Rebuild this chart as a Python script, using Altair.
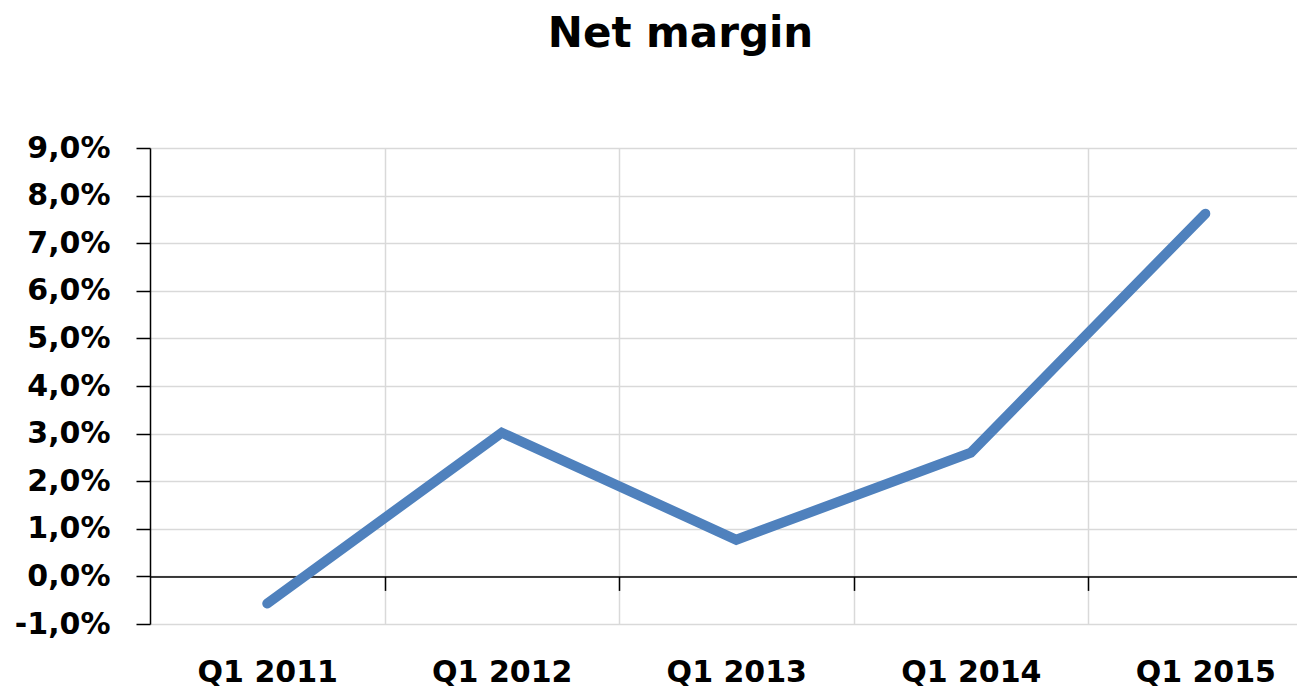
import json
import altair as alt
import pandas as pd

categories = ["Q1 2011", "Q1 2012", "Q1 2013", "Q1 2014", "Q1 2015"]
net_margin_pct = [-0.57, 3.02, 0.77, 2.6, 7.62]
y_ticks = [-1, 0, 1, 2, 3, 4, 5, 6, 7, 8, 9]

df = pd.DataFrame({
    "idx": list(range(len(categories))),
    "category": categories,
    "value": net_margin_pct,
})

centers = list(range(len(categories)))
boundaries = [i + 0.5 for i in range(len(categories) - 1)]

FONT = "DejaVu Sans"
W, H = 1147, 476
x_domain = [-0.5, 4.391]
y_domain = [-1, 9]

label_expr = json.dumps(categories) + "[datum.value]"
y_label_expr = "replace(replace(format(datum.value, '.1f'), '.', ','), '\u2212', '-') + '%'"

y_enc = alt.Y(
    "value:Q",
    scale=alt.Scale(domain=y_domain, nice=False, zero=False),
    axis=alt.Axis(
        values=y_ticks, labelExpr=y_label_expr, title=None,
        grid=True, gridColor="#d9d9d9", gridWidth=1.5,
        domain=True, domainColor="#000000", domainWidth=1.5,
        ticks=True, tickSize=14, tickColor="#000000", tickWidth=1.5,
        labelFont=FONT, labelFontSize=30, labelFontWeight="bold", labelColor="#000000",
        labelPadding=26,
    ),
)

def xenc(axis):
    return alt.X("idx:Q", scale=alt.Scale(domain=x_domain, nice=False, zero=False), axis=axis)

# vertical category-boundary gridlines
grid_layer = alt.Chart(df).mark_line(opacity=0).encode(
    x=xenc(alt.Axis(orient="bottom", values=boundaries, grid=True, gridColor="#d9d9d9",
                    gridWidth=1.5, domain=False, ticks=False, labels=False, title=None)),
    y=y_enc,
)

# zero axis line with ticks at category boundaries (moved up from the bottom to y=0)
zero_offset = -H * (0 - y_domain[0]) / (y_domain[1] - y_domain[0])
zero_layer = alt.Chart(df).mark_line(opacity=0).encode(
    x=xenc(alt.Axis(orient="bottom", values=boundaries, grid=False,
                    offset=zero_offset,
                    domain=True, domainColor="#000000", domainWidth=1.5,
                    ticks=True, tickSize=14, tickColor="#000000", tickWidth=1.5,
                    labels=False, title=None)),
    y=y_enc,
)

# the data line with category labels at the bottom
line_layer = alt.Chart(df).mark_line(
    color="#4F81BD", strokeWidth=10, strokeCap="round"
).encode(
    x=xenc(alt.Axis(orient="bottom", values=centers, labelExpr=label_expr, grid=False,
                    domain=False, ticks=False, title=None,
                    labelFont=FONT, labelFontSize=30, labelFontWeight="bold",
                    labelColor="#000000", labelPadding=33)),
    y=y_enc,
)

chart = alt.layer(grid_layer, zero_layer, line_layer).resolve_axis(
    x="independent"
).properties(
    width=W, height=H,
    autosize=alt.AutoSizeParams(type="none"),
    padding={"left": 142, "top": 140, "right": 0, "bottom": 64},
    title=alt.TitleParams(
        "Net margin", font=FONT, fontSize=42, fontWeight="bold", color="#000000",
        anchor="middle", frame="group", dx=-43, offset=44, baseline="alphabetic",
    ),
).configure_view(stroke=None)

chart.save("out.html", embed_options={"renderer": "svg", "actions": False})
